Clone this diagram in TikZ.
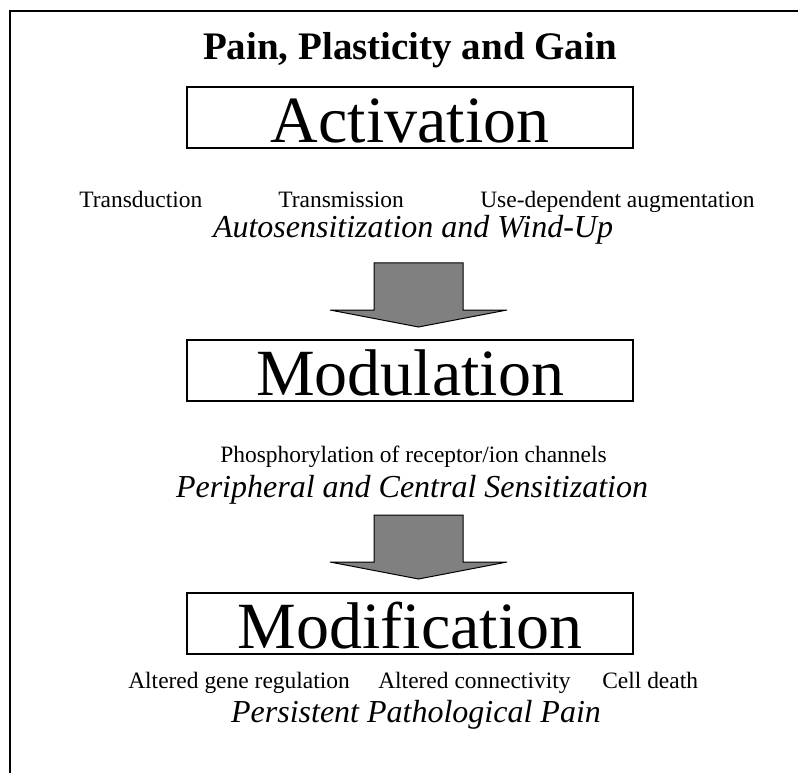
\documentclass[tikz,border=0pt]{standalone}
\usepackage{fontspec}
\setmainfont{Liberation Serif}
\usetikzlibrary{calc}
\begin{document}
\begin{tikzpicture}[x=0.75pt,y=-0.75pt,
  box/.style={draw,line width=1.5pt,minimum width=334.5pt,minimum height=45.75pt,inner sep=0pt,
    text height=40pt,text depth=2.5pt,font=\fontsize{49.5}{52}\selectfont},
  smalltxt/.style={inner sep=0pt,font=\fontsize{17.6}{20}\selectfont,anchor=base west},
  smallc/.style={inner sep=0pt,font=\fontsize{17.6}{20}\selectfont,anchor=base},
  itxt/.style={inner sep=0pt,font=\fontsize{24}{26}\selectfont\itshape,anchor=base},
  blockarrow/.style={draw=black,line width=0.75pt,fill=gray},
  downarrow/.pic={\draw[blockarrow] (-44.5,0) -- (44.5,0) -- (44.5,47) -- (88.5,47) -- (0,64) -- (-88.5,47) -- (-44.5,47) -- cycle;}
]
\useasboundingbox (0,0) rectangle (798,773);
\fill[white] (0,0) rectangle (798,773);
\draw[line width=1.5pt] (10,780) -- (10,11) -- (805,11);

\node[inner sep=0pt,anchor=base,font=\fontsize{29.25}{32}\selectfont\bfseries] (title) at (410,60) {Pain, Plasticity and Gain};

\node[box] (act) at (410,118) {Activation};
\node[smalltxt] (t1) at (79,208) {Transduction};
\node[smalltxt] (t2) at (278,208) {Transmission};
\node[smalltxt] (t3) at (480,208) {Use-dependent augmentation};
\node[itxt] (auto) at (413,238) {Autosensitization and Wind-Up};
\coordinate (a1) at (418.5,263);
\pic at (a1) {downarrow};

\node[box] (mod) at (410,370) {Modulation};
\node[smallc] (phos) at (413.5,462) {Phosphorylation of receptor/ion channels};
\node[itxt] (peri) at (412,497) {Peripheral and Central Sensitization};
\coordinate (a2) at (418.5,515);
\pic at (a2) {downarrow};

\node[box] (modif) at (410,623) {Modification};
\node[smalltxt] (g1) at (128,688) {Altered gene regulation};
\node[smalltxt] (g2) at (378,688) {Altered connectivity};
\node[smalltxt] (g3) at (602,688) {Cell death};
\node[itxt] (pers) at (416,722) {Persistent Pathological Pain};
\end{tikzpicture}
\end{document}
